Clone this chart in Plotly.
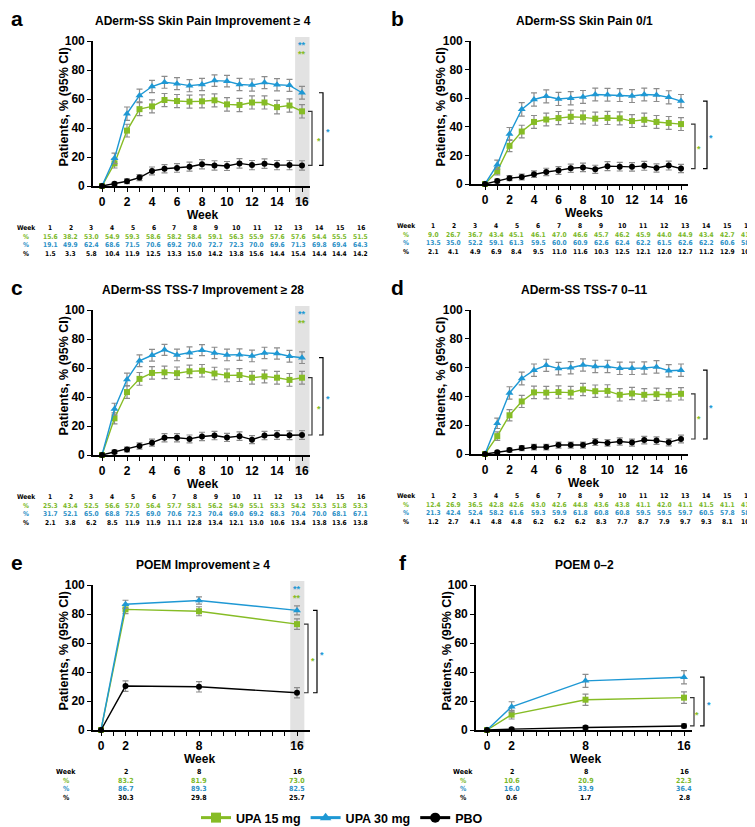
import plotly.graph_objects as go

W, H = 755, 827

GREEN = '#86BC25'
BLUE = '#1E98D4'
BLACK = '#000000'
GREEN_T = '#7AB829'
BLUE_T = '#2A8FC6'
ERR = '#8c8c8c'

# ---------------- data ----------------
weeks = [0, 1, 2, 3, 4, 5, 6, 7, 8, 9, 10, 11, 12, 13, 14, 15, 16]
poem_weeks = [0, 2, 8, 16]
tick_labels_16 = ['0', '', '2', '', '4', '', '6', '', '8', '', '10', '', '12', '', '14', '', '16']
tick_labels_poem = ['0', '', '2', '', '', '', '', '', '8', '', '', '', '', '', '', '', '16']

# a: ADerm-SS Skin Pain Improvement >= 4
a_upa15 = [0.0, 15.6, 38.2, 53.0, 54.9, 59.3, 58.6, 58.2, 58.4, 59.1, 56.3, 55.9, 57.6, 57.6, 54.4, 55.5, 51.5]
a_upa30 = [0.0, 19.1, 49.9, 62.4, 68.6, 71.5, 70.6, 69.2, 70.0, 72.7, 72.3, 70.0, 69.6, 71.3, 69.8, 69.4, 64.3]
a_pbo = [0.0, 1.5, 3.3, 5.8, 10.4, 11.9, 12.5, 13.3, 15.0, 14.2, 13.8, 15.6, 14.4, 15.4, 14.4, 14.4, 14.2]
a_upa15_ci = [0, 3.2, 4.4, 4.5, 4.5, 4.5, 4.5, 4.5, 4.5, 4.5, 4.6, 4.6, 4.5, 4.5, 4.6, 4.6, 4.6]
a_upa30_ci = [0, 3.6, 4.6, 4.4, 4.2, 4.1, 4.1, 4.2, 4.2, 4.0, 4.0, 4.2, 4.2, 4.1, 4.2, 4.2, 4.4]
a_pbo_ci = [0, 1.1, 1.6, 2.1, 2.7, 2.9, 3.0, 3.1, 3.2, 3.2, 3.1, 3.3, 3.2, 3.3, 3.2, 3.2, 3.2]

# b: ADerm-SS Skin Pain 0/1
b_upa15 = [0.0, 9.0, 26.7, 36.7, 43.4, 45.1, 46.1, 47.0, 46.6, 45.7, 46.2, 45.9, 44.0, 44.9, 43.4, 42.7, 41.9]
b_upa30 = [0.0, 13.5, 35.0, 52.2, 59.1, 61.3, 59.5, 60.0, 60.9, 62.6, 62.4, 62.2, 61.5, 62.6, 62.2, 60.6, 58.0]
b_pbo = [0.0, 2.1, 4.1, 4.9, 6.9, 8.4, 9.5, 11.0, 11.6, 10.3, 12.5, 12.1, 12.0, 12.7, 11.2, 12.9, 10.8]
b_upa15_ci = [0, 2.6, 4.1, 4.4, 4.5, 4.5, 4.6, 4.6, 4.6, 4.6, 4.6, 4.6, 4.5, 4.6, 4.5, 4.5, 4.5]
b_upa30_ci = [0, 3.2, 4.5, 4.7, 4.6, 4.5, 4.6, 4.6, 4.5, 4.5, 4.5, 4.5, 4.5, 4.5, 4.5, 4.6, 4.6]
b_pbo_ci = [0, 1.3, 1.8, 2.0, 2.3, 2.6, 2.7, 2.9, 3.0, 2.8, 3.1, 3.0, 3.0, 3.1, 2.9, 3.1, 2.9]

# c: ADerm-SS TSS-7 Improvement >= 28
c_upa15 = [0.0, 25.3, 43.4, 52.5, 56.6, 57.0, 56.4, 57.7, 58.1, 56.2, 54.9, 55.1, 53.3, 54.2, 53.3, 51.8, 53.3]
c_upa30 = [0.0, 31.7, 52.1, 65.0, 68.8, 72.5, 69.0, 70.6, 72.3, 70.4, 69.0, 69.2, 68.3, 70.4, 70.0, 68.1, 67.1]
c_pbo = [0.0, 2.1, 3.8, 6.2, 8.5, 11.9, 11.9, 11.1, 12.8, 13.4, 12.1, 13.0, 10.6, 13.4, 13.8, 13.6, 13.8]
c_upa15_ci = [0, 3.8, 4.3, 4.4, 4.3, 4.3, 4.3, 4.3, 4.3, 4.3, 4.4, 4.4, 4.4, 4.4, 4.4, 4.4, 4.4]
c_upa30_ci = [0, 4.0, 4.3, 4.1, 4.0, 3.8, 4.0, 3.9, 3.8, 3.9, 4.0, 4.0, 4.0, 3.9, 3.9, 4.0, 4.0]
c_pbo_ci = [0, 1.2, 1.7, 2.1, 2.4, 2.8, 2.8, 2.7, 2.9, 2.9, 2.8, 2.9, 2.7, 2.9, 3.0, 3.0, 3.0]

# d: ADerm-SS TSS-7 0-11
d_upa15 = [0.0, 12.4, 26.9, 36.5, 42.8, 42.6, 43.0, 42.6, 44.8, 43.6, 43.8, 41.1, 42.0, 41.1, 41.5, 41.1, 41.8]
d_upa30 = [0.0, 21.3, 42.4, 52.4, 58.2, 61.6, 59.3, 59.9, 61.8, 60.8, 60.8, 59.5, 59.5, 59.7, 60.5, 57.8, 58.2]
d_pbo = [0.0, 1.2, 2.7, 4.1, 4.8, 4.8, 6.2, 6.2, 6.2, 8.3, 7.7, 8.7, 7.9, 9.7, 9.3, 8.1, 10.4]
d_upa15_ci = [0, 2.9, 3.9, 4.2, 4.3, 4.3, 4.3, 4.3, 4.3, 4.3, 4.3, 4.3, 4.3, 4.3, 4.3, 4.3, 4.3]
d_upa30_ci = [0, 3.6, 4.3, 4.4, 4.3, 4.2, 4.3, 4.3, 4.2, 4.3, 4.3, 4.3, 4.3, 4.3, 4.3, 4.3, 4.3]
d_pbo_ci = [0, 0.9, 1.4, 1.7, 1.9, 1.9, 2.1, 2.1, 2.1, 2.4, 2.3, 2.5, 2.4, 2.6, 2.6, 2.4, 2.7]

# e: POEM Improvement >= 4
e_upa15 = [0.0, 83.2, 81.9, 73.0]
e_upa30 = [0.0, 86.7, 89.3, 82.5]
e_pbo = [0.0, 30.3, 29.8, 25.7]
e_upa15_ci = [0, 3.0, 3.1, 3.6]
e_upa30_ci = [0, 2.8, 2.5, 3.1]
e_pbo_ci = [0, 3.6, 3.6, 3.5]

# f: POEM 0-2
f_upa15 = [0.0, 10.6, 20.9, 22.3]
f_upa30 = [0.0, 16.0, 33.9, 36.4]
f_pbo = [0.0, 0.6, 1.7, 2.8]
f_upa15_ci = [0, 3.0, 3.9, 4.0]
f_upa30_ci = [0, 3.5, 4.5, 4.6]
f_pbo_ci = [0, 0.8, 1.2, 1.4]

series_names = ['UPA 15 mg', 'UPA 30 mg', 'PBO']

# ---------------- layout helpers ----------------
def fx(p):
    return p / W


def fy(p):
    return 1 - p / H


panels = [
    dict(letter='a', title='ADerm-SS Skin Pain Improvement ≥ 4', xlab='Week',
         x=weeks, ys=(a_upa15, a_upa30, a_pbo), es=(a_upa15_ci, a_upa30_ci, a_pbo_ci),
         box=(85, 302, 33, 178), x0=94, x16=294, band=True, ticks=tick_labels_16,
         table='wide', tab=(18, 42, 20.7), br=(304, 311, 315, 320), letterx=9, titlex=195, xlabx=194),
    dict(letter='b', title='ADerm-SS Skin Pain 0/1', xlab='Weeks',
         x=weeks, ys=(b_upa15, b_upa30, b_pbo), es=(b_upa15_ci, b_upa30_ci, b_pbo_ci),
         box=(463, 680, 33, 176), x0=477, x16=673, band=False, ticks=tick_labels_16,
         table='wide', tab=(398, 425, 21.0), br=(687, 691, 699, 703), letterx=389, titlex=576, xlabx=576),
    dict(letter='c', title='ADerm-SS TSS-7 Improvement ≥ 28', xlab='Week',
         x=weeks, ys=(c_upa15, c_upa30, c_pbo), es=(c_upa15_ci, c_upa30_ci, c_pbo_ci),
         box=(85, 302, 302, 447), x0=94, x16=294, band=True, ticks=tick_labels_16,
         table='wide', tab=(18, 42, 20.7), br=(304, 311, 315, 320), letterx=9, titlex=195, xlabx=194),
    dict(letter='d', title='ADerm-SS TSS-7 0–11', xlab='Week',
         x=weeks, ys=(d_upa15, d_upa30, d_pbo), es=(d_upa15_ci, d_upa30_ci, d_pbo_ci),
         box=(463, 680, 302, 446), x0=477, x16=673, band=False, ticks=tick_labels_16,
         table='wide', tab=(398, 425, 21.0), br=(687, 691, 699, 703), letterx=389, titlex=576, xlabx=575),
    dict(letter='e', title='POEM Improvement ≥ 4', xlab='Week',
         x=poem_weeks, ys=(e_upa15, e_upa30, e_pbo), es=(e_upa15_ci, e_upa30_ci, e_pbo_ci),
         box=(85, 302, 577, 722), x0=93, x16=289, band=True, ticks=tick_labels_poem,
         table='poem', tab=(58,), br=(300, 305, 309, 314), letterx=9, titlex=195, xlabx=191),
    dict(letter='f', title='POEM 0–2', xlab='Week',
         x=poem_weeks, ys=(f_upa15, f_upa30, f_pbo), es=(f_upa15_ci, f_upa30_ci, f_pbo_ci),
         box=(468, 684, 577, 722), x0=479, x16=676, band=False, ticks=tick_labels_poem,
         table='poem', tab=(455,), br=(686, 689, 696, 701), letterx=395, titlex=576, xlabx=577),
]

colors = [GREEN, BLUE, BLACK]
tcolors = [GREEN_T, BLUE_T, BLACK]
symbols = ['square', 'triangle-up', 'circle']
msizes = [6, 7, 6]

FAM = 'Liberation Sans, Arial, sans-serif'
NARROW = 'Liberation Sans Narrow, Arial Narrow, DejaVu Sans Condensed, Liberation Sans, sans-serif'

fig = go.Figure()
annotations = []
shapes = []
layout_axes = {}


def note(text, x, y, size, color='black', family=FAM, xref='paper', yref='paper', **kw):
    d = dict(text=text, x=x, y=y, xref=xref, yref=yref, showarrow=False,
             xanchor='center', yanchor='middle',
             font=dict(family=family, size=size, color=color))
    d.update(kw)
    annotations.append(d)


for i, p in enumerate(panels, start=1):
    xa = 'x' if i == 1 else f'x{i}'
    ya = 'y' if i == 1 else f'y{i}'
    left, right, top, bottom = p['box']
    upp = (p['x16'] - p['x0']) / 16.0
    xr = [-(p['x0'] - left) / upp, 16 + (right - p['x16']) / upp]

    for k in range(3):
        fig.add_trace(go.Scatter(
            x=p['x'], y=p['ys'][k], xaxis=xa, yaxis=ya,
            mode='lines+markers', name=series_names[k], showlegend=False,
            line=dict(color=colors[k], width=1.4),
            marker=dict(symbol=symbols[k], size=msizes[k], color=colors[k]),
            error_y=dict(type='data', array=p['es'][k], color=ERR, thickness=1.2, width=3),
            cliponaxis=False,
        ))

    axis_font = dict(family=FAM, size=12, color='black', weight='bold')
    layout_axes['xaxis' if i == 1 else f'xaxis{i}'] = dict(
        domain=[fx(left), fx(right)], range=xr, anchor=ya, automargin=False,
        showline=True, linecolor='black', linewidth=1.6, mirror=False,
        ticks='outside', ticklen=4, tickwidth=1.4, tickcolor='black',
        tickmode='array', tickvals=weeks, ticktext=p['ticks'],
        tickfont=axis_font, showgrid=False, zeroline=False, fixedrange=True,
    )
    layout_axes['yaxis' if i == 1 else f'yaxis{i}'] = dict(
        domain=[fy(bottom), fy(top)], range=[0, 100], anchor=xa, automargin=False,
        showline=True, linecolor='black', linewidth=1.6,
        ticks='outside', ticklen=4, tickwidth=1.4, tickcolor='black',
        tickmode='array', tickvals=[0, 20, 40, 60, 80, 100],
        tickfont=axis_font, showgrid=False, zeroline=False, fixedrange=True,
    )

    # panel letter and title
    note(f"<b>{p['letter']}</b>", fx(p['letterx']), fy(top - 23), 21)
    note(f"<b>{p['title']}</b>", fx(p['titlex']), fy(top - 20), 12)
    # axis titles
    note('<b>Patients, % (95% CI)</b>', fx(left - 30), fy((top + bottom) / 2 - 6), 12.5, textangle=-90)
    note(f"<b>{p['xlab']}</b>", fx(p['xlabx']), fy(bottom + 29), 12)

    # shaded band at week 16
    if p['band']:
        shapes.append(dict(type='rect', xref=xa, yref='paper', x0=15.45, x1=16.6,
                           y0=fy(bottom + 17), y1=fy(top - 4),
                           fillcolor='#e2e2e2', line=dict(width=0), layer='below'))
        note('<b>**</b>', 16, 97, 9, color=BLUE, xref=xa, yref=ya)
        note('<b>**</b>', 16, 91, 9, color=GREEN, xref=xa, yref=ya)

    # significance brackets (drug at week 16 vs placebo at week 16)
    pbo_end = p['ys'][2][-1]
    for k, (bx, sx) in enumerate([(p['br'][0], p['br'][1]), (p['br'][2], p['br'][3])]):
        top_v = p['ys'][k][-1]
        bxp = fx(bx)
        tk = fx(4)
        shapes.append(dict(type='path', xref='paper', yref=ya,
                           path=f'M {bxp - tk},{top_v} L {bxp},{top_v} L {bxp},{pbo_end} L {bxp - tk},{pbo_end}',
                           line=dict(color='#333333' if k == 0 else 'black', width=1.2)))
        note('<b>*</b>', fx(sx), (top_v + pbo_end) / 2, 9, color=colors[k], yref=ya, yshift=-3)

    # data table below the axis
    hdr_y = bottom + 42
    row_ys = [bottom + 50.5, bottom + 59, bottom + 67.5]
    if p['table'] == 'wide':
        lx, c0, dc = p['tab']
        tf = 6.6
        note('<b>Week</b>', fx(lx), fy(hdr_y), tf, family=NARROW)
        for j, w in enumerate(p['x'][1:]):
            note(f'<b>{w}</b>', fx(c0 + j * dc), fy(hdr_y), tf, family=NARROW)
        for k in range(3):
            note('<b>%</b>', fx(lx), fy(row_ys[k]), tf, color=tcolors[k], family=NARROW)
            for j, v in enumerate(p['ys'][k][1:]):
                note(f'<b>{v:.1f}</b>', fx(c0 + j * dc), fy(row_ys[k]), tf, color=tcolors[k], family=NARROW)
    else:
        lx = p['tab'][0]
        tf = 7
        note('<b>Week</b>', fx(lx), fy(hdr_y), tf, family=NARROW)
        for w in p['x'][1:]:
            note(f'<b>{w}</b>', w, fy(hdr_y), tf, family=NARROW, xref=xa)
        for k in range(3):
            note('<b>%</b>', fx(lx), fy(row_ys[k]), tf, color=tcolors[k], family=NARROW)
            for w, v in zip(p['x'][1:], p['ys'][k][1:]):
                note(f'<b>{v:.1f}</b>', w, fy(row_ys[k]), tf, color=tcolors[k], family=NARROW, xref=xa)

# legend-only entries (thicker line/marker like the reference key)
for k in range(3):
    fig.add_trace(go.Scatter(
        x=[None], y=[None], mode='lines+markers', name=series_names[k],
        line=dict(color=colors[k], width=3),
        marker=dict(symbol=symbols[k], size=10, color=colors[k]),
        showlegend=True,
    ))

fig.update_layout(
    width=W, height=H,
    margin=dict(l=0, r=0, t=0, b=0, autoexpand=False),
    paper_bgcolor='white', plot_bgcolor='white',
    annotations=annotations, shapes=shapes,
    legend=dict(orientation='h', x=fx(188), y=fy(810), xanchor='left', yanchor='middle',
                font=dict(family=FAM, size=12.5, color='black', weight='bold'),
                itemwidth=30, bgcolor='rgba(0,0,0,0)', tracegroupgap=0),
    **layout_axes,
)

fig.write_html('out.html')
